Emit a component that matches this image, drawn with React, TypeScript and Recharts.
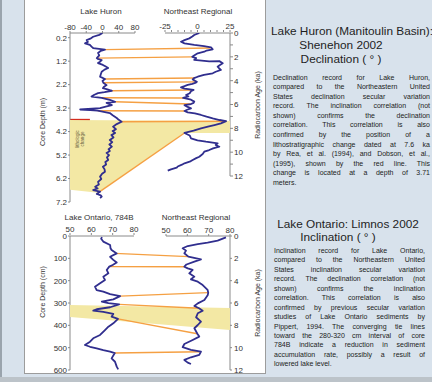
import React from 'react';
import { ScatterChart, Scatter, XAxis, YAxis, ReferenceLine } from 'recharts';

const FONT = '"Liberation Sans", Arial, Helvetica, sans-serif';
const BLUE = '#302e8e';
const ORANGE = '#f5a043';
const YELLOW = '#f3e8a4';
const RED = '#d52d1e';
const AXIS = '#8a8a8a';

// ---------- Upper panel: Lake Huron declination vs depth (m) ----------
const huronDecl = [
  { depth: 0.0, v: 0 }, { depth: 0.08, v: -8 }, { depth: 0.16, v: -23 }, { depth: 0.24, v: -30 },
  { depth: 0.3, v: -39 }, { depth: 0.38, v: -36 }, { depth: 0.44, v: -43 }, { depth: 0.51, v: -31 },
  { depth: 0.58, v: -27 }, { depth: 0.64, v: -23 }, { depth: 0.71, v: 6 }, { depth: 0.76, v: -4 },
  { depth: 0.85, v: -11 }, { depth: 0.95, v: -8 }, { depth: 1.07, v: -14 }, { depth: 1.1, v: -12 },
  { depth: 1.15, v: -2 }, { depth: 1.22, v: -6 }, { depth: 1.28, v: -11 }, { depth: 1.36, v: 1 },
  { depth: 1.43, v: 8 }, { depth: 1.49, v: 14 }, { depth: 1.56, v: 5 }, { depth: 1.65, v: -2 },
  { depth: 1.75, v: -4 }, { depth: 1.86, v: -6 }, { depth: 1.96, v: 6 }, { depth: 2.04, v: 0 },
  { depth: 2.12, v: 2 }, { depth: 2.22, v: 10 }, { depth: 2.3, v: 3 }, { depth: 2.35, v: 1 },
  { depth: 2.4, v: 12 }, { depth: 2.46, v: 23 }, { depth: 2.52, v: 5 }, { depth: 2.56, v: -11 },
  { depth: 2.63, v: -20 }, { depth: 2.71, v: -27 }, { depth: 2.76, v: -2 }, { depth: 2.85, v: 18 },
  { depth: 2.93, v: 31 }, { depth: 2.98, v: 10 }, { depth: 3.07, v: 23 }, { depth: 3.14, v: 8 },
  { depth: 3.2, v: -6 }, { depth: 3.26, v: -55 }, { depth: 3.29, v: -30 }, { depth: 3.31, v: -12 },
  { depth: 3.41, v: 18 }, { depth: 3.5, v: 25 }, { depth: 3.62, v: 35 }, { depth: 3.7, v: 40 },
  { depth: 3.78, v: 47 }, { depth: 3.88, v: 35 }, { depth: 3.99, v: 26 }, { depth: 4.1, v: 33 },
  { depth: 4.18, v: 25 }, { depth: 4.26, v: 31 }, { depth: 4.35, v: 22 }, { depth: 4.45, v: 27 },
  { depth: 4.56, v: 18 }, { depth: 4.65, v: 24 }, { depth: 4.75, v: 17 }, { depth: 4.84, v: 23 },
  { depth: 4.95, v: 15 }, { depth: 5.03, v: 18 }, { depth: 5.11, v: 10 }, { depth: 5.2, v: 16 },
  { depth: 5.3, v: 11 }, { depth: 5.41, v: 14 }, { depth: 5.5, v: 7 }, { depth: 5.6, v: 9 },
  { depth: 5.7, v: 1 }, { depth: 5.8, v: 5 }, { depth: 5.91, v: 6 }, { depth: 6.0, v: -1 },
  { depth: 6.12, v: -6 }, { depth: 6.22, v: -3 }, { depth: 6.34, v: -11 }, { depth: 6.45, v: -9 },
  { depth: 6.55, v: -18 }, { depth: 6.62, v: -12 }, { depth: 6.69, v: -23 }, { depth: 6.76, v: -6 },
  { depth: 6.81, v: -11 }, { depth: 6.86, v: -14 }, { depth: 6.92, v: -4 }, { depth: 6.97, v: -2 },
  { depth: 7.03, v: -6 },
];

// Northeast regional declination vs age (ka)
const neDecl = [
  { age: 0.0, v: 1.4 }, { age: 0.17, v: -2.5 }, { age: 0.3, v: -4 }, { age: 0.45, v: -6.3 },
  { age: 0.6, v: -10 }, { age: 0.73, v: -12.7 }, { age: 0.87, v: -10 }, { age: 1.0, v: -2.5 },
  { age: 1.1, v: 5 }, { age: 1.2, v: 10.4 }, { age: 1.37, v: 11.7 }, { age: 1.47, v: 7 },
  { age: 1.57, v: 5.2 }, { age: 1.7, v: 0.2 }, { age: 1.85, v: -2 }, { age: 2.0, v: -4 },
  { age: 2.1, v: -1 }, { age: 2.26, v: -2.5 }, { age: 2.38, v: 9 }, { age: 2.36, v: 16.8 },
  { age: 2.54, v: 19.4 }, { age: 2.7, v: 17 }, { age: 2.83, v: 15.5 }, { age: 3.0, v: 17 },
  { age: 3.1, v: 18 }, { age: 3.25, v: 14 }, { age: 3.38, v: 11.7 }, { age: 3.52, v: 5 },
  { age: 3.67, v: 0.2 }, { age: 3.78, v: -2.7 }, { age: 3.89, v: -3.7 }, { age: 4.0, v: -2 },
  { age: 4.1, v: -0.5 }, { age: 4.17, v: -1.2 }, { age: 4.27, v: -4 }, { age: 4.36, v: -7.5 },
  { age: 4.46, v: -10 }, { age: 4.56, v: -12.7 }, { age: 4.66, v: -10 }, { age: 4.78, v: -3 },
  { age: 4.88, v: -5 }, { age: 5.05, v: -6 }, { age: 5.2, v: -8.8 }, { age: 5.32, v: -7 },
  { age: 5.45, v: -11 }, { age: 5.6, v: -5 }, { age: 5.76, v: -2.5 }, { age: 5.86, v: -3 },
  { age: 5.96, v: -5 }, { age: 6.06, v: -10 }, { age: 6.18, v: -8 }, { age: 6.32, v: -5 },
  { age: 6.44, v: -8 }, { age: 6.54, v: -10 }, { age: 6.66, v: -7.5 }, { age: 6.75, v: -2 },
  { age: 6.88, v: 2.7 }, { age: 7.02, v: 7 }, { age: 7.16, v: 11.7 }, { age: 7.3, v: 17 },
  { age: 7.4, v: 22 }, { age: 7.58, v: 18 }, { age: 7.72, v: 13 }, { age: 7.86, v: 8 },
  { age: 8.0, v: 2.7 }, { age: 8.2, v: -3 }, { age: 8.39, v: -10 }, { age: 8.6, v: -6 },
  { age: 8.84, v: -5 }, { age: 9.0, v: 0 }, { age: 9.12, v: 6.5 }, { age: 9.26, v: 15.5 },
  { age: 9.4, v: 14 }, { age: 9.54, v: 16.8 }, { age: 9.68, v: 12 }, { age: 9.82, v: 9 },
  { age: 9.96, v: 5.2 }, { age: 10.15, v: 4 }, { age: 10.38, v: 1.4 }, { age: 10.5, v: -1 },
  { age: 10.65, v: -3.7 }, { age: 10.8, v: -6 }, { age: 10.93, v: -10 }, { age: 11.05, v: -12 },
  { age: 11.2, v: -15.2 }, { age: 11.3, v: -16 }, { age: 11.44, v: -20.4 }, { age: 11.55, v: -22.9 },
];

// tie lines: Lake Huron end (decl, depth) -> NE end (decl, age)
const huronTieEnds = [
  { id: 't1', v: 6, depth: 0.71 }, { id: 't2', v: -14, depth: 1.07 }, { id: 't3', v: 6, depth: 1.96 },
  { id: 't4', v: 2, depth: 2.12 }, { id: 't5', v: 23, depth: 2.46 }, { id: 't6', v: -2, depth: 2.76 },
  { id: 't7', v: 31, depth: 2.93 }, { id: 't8', v: -12, depth: 3.31 }, { id: 't9', v: 47, depth: 3.78 },
  { id: 't10', v: -11, depth: 6.81 },
];
const neTieEnds = [
  { id: 't1', v: 10, age: 1.26 }, { id: 't2', v: -4, age: 2.0 }, { id: 't3', v: -2.7, age: 3.78 },
  { id: 't4', v: -0.5, age: 4.1 }, { id: 't5', v: -3, age: 4.78 }, { id: 't6', v: -11, age: 5.45 },
  { id: 't7', v: -5, age: 5.96 }, { id: 't8', v: -10, age: 6.54 }, { id: 't9', v: 22, age: 7.4 },
  { id: 't10', v: -10, age: 8.39 },
];
// correlated interval (yellow) corners
const huronBandCorners = [
  { id: 'b1', v: -80, depth: 3.71 }, { id: 'b5', v: -11, depth: 6.81 }, { id: 'b6', v: -80, depth: 6.68 },
];
const neBandCorners = [
  { id: 'b2', v: 25, age: 7.38 }, { id: 'b3', v: 25, age: 8.39 }, { id: 'b4', v: -10, age: 8.39 },
];
const lithologicDepth = 3.71;

const huronTicks = [-80, -40, 0, 40, 80];
const neDeclTicks = [-25, -20, -15, -10, -5, 0, 5, 10, 15, 20, 25];
const neDeclLabels = [-25, 0, 25];
const depthTicksM = [0.2, 1.2, 2.2, 3.2, 4.2, 5.2, 6.2, 7.2];
const ageTicksUpper = [0, 1, 2, 3, 4, 5, 6, 7, 8, 9, 10, 11, 12];

// ---------- Lower panel: Lake Ontario inclination vs depth (cm) ----------
const ontarioIncl = [
  { depth: 5, v: 65 }, { depth: 12, v: 64.6 }, { depth: 25, v: 65.6 }, { depth: 40, v: 68.8 },
  { depth: 55, v: 69 }, { depth: 63, v: 69.5 }, { depth: 78, v: 71.9 }, { depth: 93, v: 68.8 },
  { depth: 107, v: 70.3 }, { depth: 119, v: 71.9 }, { depth: 130, v: 70 }, { depth: 137, v: 68.4 },
  { depth: 152, v: 67.2 }, { depth: 167, v: 68 }, { depth: 182, v: 65.6 }, { depth: 197, v: 66.4 },
  { depth: 212, v: 64.1 }, { depth: 227, v: 61.7 }, { depth: 242, v: 62.5 }, { depth: 249, v: 65.6 },
  { depth: 260, v: 68.8 }, { depth: 269, v: 73.5 }, { depth: 284, v: 70.3 }, { depth: 294, v: 64.9 },
  { depth: 301, v: 68 }, { depth: 306, v: 73 }, { depth: 319, v: 68.8 }, { depth: 328, v: 62.5 },
  { depth: 334, v: 60.9 }, { depth: 340, v: 65.6 }, { depth: 349, v: 70.3 }, { depth: 361, v: 69.5 },
  { depth: 371, v: 72.5 }, { depth: 391, v: 70.3 }, { depth: 406, v: 68 }, { depth: 421, v: 66.4 },
  { depth: 443, v: 64.1 }, { depth: 458, v: 60.9 }, { depth: 473, v: 59.4 }, { depth: 488, v: 57 },
  { depth: 496, v: 59.4 }, { depth: 503, v: 62.5 }, { depth: 511, v: 65.6 }, { depth: 518, v: 68.8 },
  { depth: 524, v: 71 }, { depth: 548, v: 69.5 }, { depth: 563, v: 71.1 }, { depth: 585, v: 71.9 },
  { depth: 597, v: 72.6 },
];
const neIncl = [
  { age: 0.12, v: 78.1 }, { age: 0.42, v: 74.2 }, { age: 0.6, v: 69.5 }, { age: 0.72, v: 64.9 },
  { age: 0.9, v: 60.2 }, { age: 1.1, v: 57.8 }, { age: 1.31, v: 59.4 }, { age: 1.55, v: 58.6 },
  { age: 1.85, v: 60.5 }, { age: 2.09, v: 66.4 }, { age: 2.3, v: 63.3 }, { age: 2.55, v: 59.6 },
  { age: 2.75, v: 58.6 }, { age: 2.9, v: 60.2 }, { age: 3.04, v: 62.5 }, { age: 3.34, v: 60.9 },
  { age: 3.64, v: 63.3 }, { age: 3.88, v: 61.7 }, { age: 4.09, v: 64.9 }, { age: 4.39, v: 67.2 },
  { age: 4.83, v: 69.5 }, { age: 5.07, v: 69.8 }, { age: 5.28, v: 69.6 }, { age: 5.73, v: 68 },
  { age: 6.03, v: 64.9 }, { age: 6.27, v: 63.3 }, { age: 6.47, v: 65.5 }, { age: 6.69, v: 67.2 },
  { age: 6.92, v: 64.9 }, { age: 7.28, v: 64.1 }, { age: 7.67, v: 66.4 }, { age: 7.97, v: 64.9 },
  { age: 8.26, v: 63.3 }, { age: 8.75, v: 64.7 }, { age: 9.01, v: 65.6 }, { age: 9.31, v: 62.5 },
  { age: 9.67, v: 58.6 }, { age: 9.96, v: 57.8 }, { age: 10.2, v: 61.7 }, { age: 10.36, v: 66.4 },
  { age: 10.65, v: 65.6 }, { age: 10.86, v: 61.7 }, { age: 11.1, v: 58.6 }, { age: 11.34, v: 60.2 },
  { age: 11.46, v: 61.7 },
];
const ontarioTieEnds = [
  { id: 't1', v: 71, depth: 78 }, { id: 't2', v: 68.4, depth: 137 }, { id: 't3', v: 73.5, depth: 269 },
  { id: 't4', v: 73, depth: 306 }, { id: 't5', v: 72.5, depth: 371 }, { id: 't6', v: 71, depth: 524 },
];
const neInclTieEnds = [
  { id: 't1', v: 60.5, age: 1.85 }, { id: 't2', v: 58.6, age: 2.75 }, { id: 't3', v: 69.8, age: 5.07 },
  { id: 't4', v: 65.5, age: 6.47 }, { id: 't5', v: 64.7, age: 8.75 }, { id: 't6', v: 66.4, age: 10.36 },
];
const ontarioBandCorners = [{ id: 'b1', v: 50, depth: 309 }, { id: 'b4', v: 50, depth: 363 }];
const neInclBandCorners = [{ id: 'b2', v: 80, age: 6.45 }, { id: 'b3', v: 80, age: 8.42 }];

const inclTicks = [50, 60, 70, 80];
const depthTicksCm = [0, 100, 200, 300, 400, 500, 600];
const ageTicksLower = [0, 2, 4, 6, 8, 10, 12];

// ---------- Texts ----------
const upperTitle = ['Lake Huron (Manitoulin Basin):', 'Shenehon 2002', 'Declination ( ° )'];
const upperBody = [
  'Declination record for Lake Huron,',
  'compared to the Northeastern United',
  'States declination secular variation',
  'record. The inclination correlation (not',
  'shown) confirms the declination',
  'correlation. This correlation is also',
  'confirmed by the position of a',
  'lithostratigraphic change dated at 7.6 ka',
  'by Rea, et al. (1994), and Dobson, et al.,',
  '(1995), shown by the red line. This',
  'change is located at a depth of 3.71',
  'meters.',
];
const lowerTitle = ['Lake Ontario: Limnos 2002', 'Inclination ( ° )'];
const lowerBody = [
  'Inclination record for Lake Ontario,',
  'compared to the Northeastern United',
  'States inclination secular variation',
  'record. The declination correlation (not',
  'shown) confirms the inclination',
  'correlation. This correlation is also',
  'confirmed by previous secular variation',
  'studies of Lake Ontario sediments by',
  'Pippert, 1994. The converging tie lines',
  'toward the 280-320 cm interval of core',
  '784B indicate a reduction in sediment',
  'accumulation rate, possibly a result of',
  'lowered lake level.',
];

// ---------- cross-axis anchor machinery ----------
type Pt = { x: number; y: number };
const anchorStore: Record<string, Pt> = {};

function makeAnchorShape(prefix: string) {
  return (props: any) => {
    const { cx, cy } = props;
    const id = (props.payload && props.payload.id) || props.id;
    if (id && Number.isFinite(cx) && Number.isFinite(cy)) anchorStore[prefix + id] = { x: cx, y: cy };
    return <g />;
  };
}
const hidden = () => <g />;

function makeDrawer(prefix: string, tieIds: string[], bandIds: string[]) {
  return () => {
    const get = (id: string) => anchorStore[prefix + id];
    const band = bandIds.map(get);
    const ok = band.every(Boolean);
    return (
      <g>
        {ok && <polygon points={band.map((p) => `${p.x},${p.y}`).join(' ')} fill={YELLOW} stroke="none" />}
        {tieIds.map((id) => {
          const a = get('L' + id);
          const b = get('R' + id);
          return a && b ? (
            <line key={id} x1={a.x} y1={a.y} x2={b.x} y2={b.y} stroke={ORANGE} strokeWidth={1.4} />
          ) : null;
        })}
      </g>
    );
  };
}

const tickStyle = { fontSize: 8, fill: '#333', fontFamily: FONT };

function UpperChart() {
  const leftAnchors = [...huronTieEnds.map((t) => ({ ...t, id: 'L' + t.id })), ...huronBandCorners];
  const rightAnchors = [...neTieEnds.map((t) => ({ ...t, id: 'R' + t.id })), ...neBandCorners];
  const drawer = makeDrawer('U', huronTieEnds.map((t) => t.id), ['b1', 'b2', 'b3', 'b4', 'b5', 'b6']);
  return (
    <ScatterChart width={270} height={215} margin={{ top: 31, right: 39, bottom: 13, left: 40 }}>
      <XAxis xAxisId="h" dataKey="v" type="number" orientation="top" domain={[-80, 313.85]} allowDataOverflow
        ticks={huronTicks} interval={0} height={1} axisLine={false} tickSize={2} tickMargin={1}
        tick={tickStyle} tickLine={{ stroke: AXIS }} />
      <XAxis xAxisId="n" dataKey="v" type="number" orientation="top" domain={[-98.08, 25]} allowDataOverflow
        ticks={neDeclTicks} interval={0} height={1} axisLine={false} tickSize={2} tickMargin={1}
        tickFormatter={(v: number) => (neDeclLabels.includes(v) ? String(v) : '')}
        tick={tickStyle} tickLine={{ stroke: AXIS }} />
      <YAxis yAxisId="d" dataKey="depth" type="number" domain={[0, 7.2]} reversed allowDataOverflow
        ticks={depthTicksM} interval={0} width={30} tickSize={2} tickMargin={1}
        tickFormatter={(v: number) => v.toFixed(1)} tick={tickStyle}
        axisLine={{ stroke: AXIS }} tickLine={{ stroke: AXIS }} />
      <YAxis yAxisId="a" dataKey="age" type="number" orientation="right" domain={[0, 14.18]} reversed allowDataOverflow
        ticks={ageTicksUpper} interval={0} width={1} tickSize={3} tickMargin={1}
        tickFormatter={(v: number) => (v % 2 === 0 ? String(v) : '')} tick={tickStyle}
        axisLine={false} tickLine={{ stroke: AXIS }} />
      <ReferenceLine xAxisId="h" yAxisId="d" segment={[{ x: -80, y: 0 }, { x: 80, y: 0 }]} stroke={AXIS} />
      <ReferenceLine xAxisId="n" yAxisId="a" segment={[{ x: -25, y: 0 }, { x: 25, y: 0 }]} stroke={AXIS} />
      <ReferenceLine xAxisId="n" yAxisId="a" segment={[{ x: 25, y: 0 }, { x: 25, y: 12 }]} stroke={AXIS} />
      <Scatter xAxisId="h" yAxisId="d" data={leftAnchors} shape={makeAnchorShape('U')} isAnimationActive={false} />
      <Scatter xAxisId="n" yAxisId="a" data={rightAnchors} shape={makeAnchorShape('U')} isAnimationActive={false} />
      <Scatter xAxisId="h" yAxisId="d" data={[{ v: 0, depth: 0 }]} shape={drawer} isAnimationActive={false} />
      <ReferenceLine xAxisId="h" yAxisId="d" segment={[{ x: -80, y: lithologicDepth }, { x: -31, y: lithologicDepth }]}
        stroke={RED} strokeWidth={2.5} />
      <Scatter xAxisId="h" yAxisId="d" data={huronDecl} fill={BLUE} shape={hidden} lineJointType="linear"
        line={{ stroke: BLUE, strokeWidth: 1.8, strokeLinejoin: 'round' }} isAnimationActive={false} />
      <Scatter xAxisId="n" yAxisId="a" data={neDecl} fill={BLUE} shape={hidden} lineJointType="linear"
        line={{ stroke: BLUE, strokeWidth: 1.8, strokeLinejoin: 'round' }} isAnimationActive={false} />
    </ScatterChart>
  );
}

function LowerChart() {
  const leftAnchors = [...ontarioTieEnds.map((t) => ({ ...t, id: 'L' + t.id })), ...ontarioBandCorners];
  const rightAnchors = [...neInclTieEnds.map((t) => ({ ...t, id: 'R' + t.id })), ...neInclBandCorners];
  const drawer = makeDrawer('W', ontarioTieEnds.map((t) => t.id), ['b1', 'b2', 'b3', 'b4']);
  return (
    <ScatterChart width={270} height={175} margin={{ top: 29, right: 39, bottom: 10, left: 40 }}>
      <XAxis xAxisId="o" dataKey="v" type="number" orientation="top" domain={[50, 125]} allowDataOverflow
        ticks={inclTicks} interval={0} height={1} axisLine={false} tickSize={2} tickMargin={1}
        tick={tickStyle} tickLine={{ stroke: AXIS }} />
      <XAxis xAxisId="n" dataKey="v" type="number" orientation="top" domain={[5, 80]} allowDataOverflow
        ticks={inclTicks} interval={0} height={1} axisLine={false} tickSize={2} tickMargin={1}
        tick={tickStyle} tickLine={{ stroke: AXIS }} />
      <YAxis yAxisId="d" dataKey="depth" type="number" domain={[0, 600]} reversed allowDataOverflow
        ticks={depthTicksCm} interval={0} width={30} tickSize={2} tickMargin={1} tick={tickStyle}
        axisLine={{ stroke: AXIS }} tickLine={{ stroke: AXIS }} />
      <YAxis yAxisId="a" dataKey="age" type="number" orientation="right" domain={[0, 12]} reversed allowDataOverflow
        ticks={ageTicksLower} interval={0} width={1} tickSize={2} tickMargin={2} tick={tickStyle}
        axisLine={{ stroke: AXIS }} tickLine={{ stroke: AXIS }} />
      <ReferenceLine xAxisId="o" yAxisId="d" segment={[{ x: 50, y: 0 }, { x: 80, y: 0 }]} stroke={AXIS} />
      <ReferenceLine xAxisId="n" yAxisId="a" segment={[{ x: 50, y: 0 }, { x: 80, y: 0 }]} stroke={AXIS} />
      <Scatter xAxisId="o" yAxisId="d" data={leftAnchors} shape={makeAnchorShape('W')} isAnimationActive={false} />
      <Scatter xAxisId="n" yAxisId="a" data={rightAnchors} shape={makeAnchorShape('W')} isAnimationActive={false} />
      <Scatter xAxisId="o" yAxisId="d" data={[{ v: 60, depth: 0 }]} shape={drawer} isAnimationActive={false} />
      <Scatter xAxisId="o" yAxisId="d" data={ontarioIncl} fill={BLUE} shape={hidden} lineJointType="linear"
        line={{ stroke: BLUE, strokeWidth: 1.8, strokeLinejoin: 'round' }} isAnimationActive={false} />
      <Scatter xAxisId="n" yAxisId="a" data={neIncl} fill={BLUE} shape={hidden} lineJointType="linear"
        line={{ stroke: BLUE, strokeWidth: 1.8, strokeLinejoin: 'round' }} isAnimationActive={false} />
    </ScatterChart>
  );
}

const abs = (s: React.CSSProperties): React.CSSProperties => ({ position: 'absolute', ...s });

function Label({ x, y, text, size = 8, rotate = 0, color = '#333' }: any) {
  return (
    <div style={abs({ left: x, top: y, transform: `translate(-50%, -50%) rotate(${rotate}deg)`, fontSize: size,
      whiteSpace: 'nowrap', color, lineHeight: 1 })}>{text}</div>
  );
}

function Paragraph({ lines, left, top, width, lh }: any) {
  return (
    <div style={abs({ left, top, width, fontSize: 7, lineHeight: `${lh}px`, color: '#222' })}>
      {lines.map((l: string, i: number) => (
        <div key={i} style={{ textAlign: 'justify', textAlignLast: i === lines.length - 1 ? 'left' : 'justify',
          whiteSpace: 'normal' }}>{l}</div>
      ))}
    </div>
  );
}

export default function App() {
  return (
    <div style={abs({ left: 0, top: 0, width: 432, height: 382, background: '#d8e2ec', overflow: 'hidden', fontFamily: FONT })}>
      <div style={abs({ left: 0, top: 0, width: 2, height: 382, background: '#9aa4ad' })} />
      <div style={abs({ left: 0, top: 377, width: 432, height: 5, background: '#bcc3c9' })} />
      <div style={abs({ left: 24, top: -1, width: 242, height: 375, background: '#fff', border: '1px solid #9c9c9c', boxSizing: 'border-box' })} />
      <div style={abs({ left: 0, top: 0 })}><UpperChart /></div>
      <div style={abs({ left: 0, top: 205 })}><LowerChart /></div>

      <Label x={101} y={12} text="Lake Huron" />
      <Label x={198} y={12} text="Northeast Regional" />
      <Label x={42} y={122} text="Core Depth (m)" size={7} rotate={-90} />
      <Label x={257} y={105} text="Radiocarbon Age (ka)" size={7} rotate={-90} />
      <div style={abs({ left: 80, top: 139, transform: 'translate(-50%, -50%) rotate(-90deg)', fontSize: 4.5,
        lineHeight: '5px', color: '#6a5f40', textAlign: 'center', whiteSpace: 'nowrap' })}>lithologic<br />change</div>

      <Label x={99} y={218} text="Lake Ontario, 784B" />
      <Label x={196} y={218} text="Northeast Regional" />
      <Label x={42} y={292} text="Core Depth (cm)" size={7} rotate={-90} />
      <Label x={257} y={303} text="Radiocarbon Age (ka)" size={7} rotate={-90} />

      <Label x={352} y={32} text={upperTitle[0]} size={11.8} color="#1e1e1e" />
      <Label x={341} y={46} text={upperTitle[1]} size={11.8} color="#1e1e1e" />
      <Label x={341} y={60} text={upperTitle[2]} size={11.8} color="#1e1e1e" />
      <Paragraph lines={upperBody} left={273} top={72.5} width={157} lh={9.58} />

      <Label x={348} y={225} text={lowerTitle[0]} size={11.8} color="#1e1e1e" />
      <Label x={338} y={238} text={lowerTitle[1]} size={11.8} color="#1e1e1e" />
      <Paragraph lines={lowerBody} left={274} top={246} width={151} lh={9.44} />
    </div>
  );
}
